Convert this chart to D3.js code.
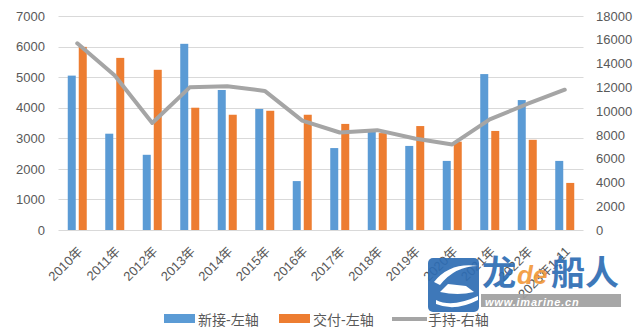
<!DOCTYPE html>
<html><head><meta charset="utf-8">
<script src="https://cdn.jsdelivr.net/npm/d3@7"></script>
<style>
html,body{margin:0;padding:0;background:#fff;}
svg{display:block;font-family:"Liberation Sans","Noto Sans CJK SC",sans-serif;}
</style></head>
<body><svg id="c" width="643" height="332"></svg>
<script>
const categories = ["2010年","2011年","2012年","2013年","2014年","2015年","2016年","2017年","2018年","2019年","2020年","2021年","2022年","2023年1-11"];
const newOrders = [5050,3150,2460,6090,4580,3960,1600,2680,3210,2750,2260,5100,4250,2260];
const deliveries = [5990,5630,5240,4000,3770,3900,3770,3470,3170,3400,2890,3240,2950,1540];
const orderbook = [15700,13000,9000,12000,12100,11700,9200,8200,8400,7700,7200,9300,10600,11800];
const leftTicks = [0,1000,2000,3000,4000,5000,6000,7000];
const rightTicks = [0,2000,4000,6000,8000,10000,12000,14000,16000,18000];
const seriesNames = ["新接-左轴","交付-左轴","手持-右轴"];
const colors = ["#5B9BD5","#ED7D31","#A5A5A5"];

const svg = d3.select("#c");
const L = 58.5, R = 583.5, T = 16, B = 230;
const x = d3.scaleBand().domain(categories).range([L, R]).padding(0);
const xs = d3.scaleBand().domain(["n","d"]).range([9.25, 28.25]).paddingInner(3/11);
const yL = d3.scaleLinear().domain([0,7000]).range([B, T]);
const yR = d3.scaleLinear().domain([0,18000]).range([B, T]);

// gridlines
svg.append("g").selectAll("line").data(leftTicks).join("line")
  .attr("x1", L).attr("x2", R)
  .attr("y1", d => Math.round(yL(d))+0.5).attr("y2", d => Math.round(yL(d))+0.5)
  .attr("stroke", "#D9D9D9").attr("stroke-width", 1);

// axes
const axL = d3.axisLeft(yL).tickValues(leftTicks).tickSize(0).tickPadding(0).tickFormat(d3.format("d"));
const gL = svg.append("g").attr("transform", `translate(45,0)`).call(axL);
gL.select(".domain").remove();
gL.selectAll("text").attr("fill","#595959").attr("font-size","13px");

const axR = d3.axisRight(yR).tickValues(rightTicks).tickSize(0).tickPadding(0).tickFormat(d3.format("d"));
const gR = svg.append("g").attr("transform", `translate(596,0)`).call(axR);
gR.select(".domain").remove();
gR.selectAll("text").attr("fill","#595959").attr("font-size","13px");

// bars
svg.append("g").selectAll("rect").data(newOrders).join("rect")
  .attr("x", (d,i) => x(categories[i]) + xs("n"))
  .attr("width", xs.bandwidth())
  .attr("y", d => yL(d)).attr("height", d => B - yL(d))
  .attr("fill", colors[0]);
svg.append("g").selectAll("rect").data(deliveries).join("rect")
  .attr("x", (d,i) => x(categories[i]) + xs("d"))
  .attr("width", xs.bandwidth())
  .attr("y", d => yL(d)).attr("height", d => B - yL(d))
  .attr("fill", colors[1]);

// line
const line = d3.line().x((d,i) => x(categories[i]) + x.bandwidth()/2).y(d => yR(d));
svg.append("path").datum(orderbook).attr("d", line)
  .attr("fill","none").attr("stroke", colors[2]).attr("stroke-width", 4)
  .attr("stroke-linejoin","round").attr("stroke-linecap","round");

// x labels
svg.append("g").selectAll("text").data(categories).join("text")
  .attr("transform", d => `translate(${x(d)+x.bandwidth()/2+3},249) rotate(-45)`)
  .attr("text-anchor","end").attr("dy","0.35em")
  .attr("font-size","13px").attr("fill","#595959")
  .text(d => d);

// legend
const lg = svg.append("g");
lg.append("rect").attr("x",164).attr("y",314).attr("width",31).attr("height",9).attr("fill",colors[0]);
lg.append("text").attr("x",198).attr("y",325).attr("font-size","14px").attr("fill","#595959").text(seriesNames[0]);
lg.append("rect").attr("x",279).attr("y",314).attr("width",31).attr("height",9).attr("fill",colors[1]);
lg.append("text").attr("x",313).attr("y",325).attr("font-size","14px").attr("fill","#595959").text(seriesNames[1]);
lg.append("line").attr("x1",392).attr("x2",427).attr("y1",319).attr("y2",319).attr("stroke",colors[2]).attr("stroke-width",4);
lg.append("text").attr("x",428).attr("y",325).attr("font-size","14px").attr("fill","#595959").text(seriesNames[2]);

// watermark logo
const wm = svg.append("g").attr("opacity",0.92);
wm.append("rect").attr("x",428).attr("y",258).attr("width",51).attr("height",54).attr("rx",5).attr("fill","#2E6DB4");
wm.append("path").attr("d","M434,282 Q450,262 478,266 Q455,266 440,285 Z").attr("fill","#fff");
wm.append("path").attr("d","M436,300 Q452,308 478,296 L478,300 Q455,312 436,304 Z").attr("fill","#fff");
wm.append("path").attr("d","M440,292 L448,284 L466,286 L474,292 Q458,296 440,292 Z").attr("fill","#fff");
wm.append("text").attr("x",482).attr("y",285).attr("font-size","34px").attr("font-weight","bold")
  .attr("font-family","Noto Sans CJK SC").attr("fill","#2E6DB4").text("龙");
wm.append("text").attr("x",517).attr("y",284).attr("font-size","26px").attr("font-style","italic").attr("font-weight","bold")
  .attr("font-family","Liberation Sans").attr("fill","#F39A3B").text("de");
wm.append("text").attr("x",551).attr("y",285).attr("font-size","34px").attr("font-weight","bold")
  .attr("font-family","Noto Sans CJK SC").attr("fill","#2E6DB4").text("船人");
wm.append("rect").attr("x",481).attr("y",294).attr("width",140).attr("height",13).attr("fill","#A0A0A0");
wm.append("text").attr("x",485).attr("y",306).attr("font-size","11px").attr("font-style","italic").attr("font-weight","bold")
  .attr("font-family","Liberation Sans").attr("fill","#fff").attr("letter-spacing","0.8").text("www.imarine.cn");
</script></body></html>
